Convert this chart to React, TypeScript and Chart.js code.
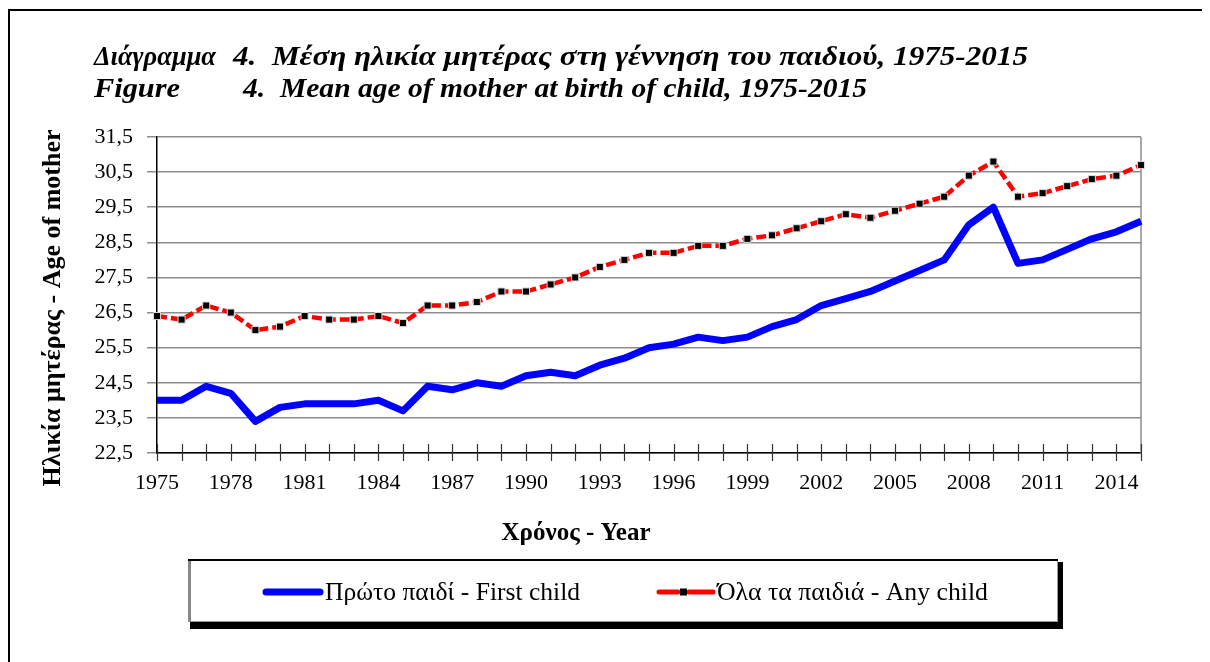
import React, { useEffect, useRef } from "react";
import { Chart, registerables } from "chart.js";

Chart.register(...registerables);

const years = [
  "1975", "1976", "1977", "1978", "1979", "1980", "1981", "1982", "1983", "1984",
  "1985", "1986", "1987", "1988", "1989", "1990", "1991", "1992", "1993", "1994",
  "1995", "1996", "1997", "1998", "1999", "2000", "2001", "2002", "2003", "2004",
  "2005", "2006", "2007", "2008", "2009", "2010", "2011", "2012", "2013", "2014", "2015",
];

const firstChild = [
  24.0, 24.0, 24.4, 24.2, 23.4, 23.8, 23.9, 23.9, 23.9, 24.0,
  23.7, 24.4, 24.3, 24.5, 24.4, 24.7, 24.8, 24.7, 25.0, 25.2,
  25.5, 25.6, 25.8, 25.7, 25.8, 26.1, 26.3, 26.7, 26.9, 27.1,
  27.4, 27.7, 28.0, 29.0, 29.5, 27.9, 28.0, 28.3, 28.6, 28.8, 29.1,
];

const anyChild = [
  26.4, 26.3, 26.7, 26.5, 26.0, 26.1, 26.4, 26.3, 26.3, 26.4,
  26.2, 26.7, 26.7, 26.8, 27.1, 27.1, 27.3, 27.5, 27.8, 28.0,
  28.2, 28.2, 28.4, 28.4, 28.6, 28.7, 28.9, 29.1, 29.3, 29.2,
  29.4, 29.6, 29.8, 30.4, 30.8, 29.8, 29.9, 30.1, 30.3, 30.4, 30.7,
];

const yMin = 22.5;
const yMax = 31.5;
const yStep = 1;
const xLabelEvery = 3;

const titleLine1a = "Διάγραμμα";
const titleLine1b = "4.  Μέση ηλικία μητέρας στη γέννηση του παιδιού, 1975-2015";
const titleLine2a = "Figure";
const titleLine2b = "4.  Mean age of mother at birth of child, 1975-2015";
const yTitle = "Ηλικία μητέρας - Age of mother";
const xTitle = "Χρόνος - Year";
const seriesNames = ["Πρώτο παιδί - First child", "Όλα τα παιδιά - Any child"];

const SERIF = "'Liberation Serif', 'Times New Roman', serif";

// draw text stretched horizontally to a target width (matches the wider original face)
function fitText(ctx: CanvasRenderingContext2D, text: string, x: number, y: number, w: number) {
  const m = ctx.measureText(text).width;
  ctx.save();
  ctx.translate(x, y);
  ctx.scale(w / m, 1);
  ctx.fillText(text, 0, 0);
  ctx.restore();
}

const decorPlugin = {
  id: "decor",
  beforeDatasetsDraw(chart: any) {
    const { ctx, chartArea } = chart;
    ctx.save();
    ctx.strokeStyle = "#8c8c8c";
    ctx.lineWidth = 1.5;
    ctx.beginPath();
    ctx.moveTo(chartArea.right, chartArea.top);
    ctx.lineTo(chartArea.right, chartArea.bottom);
    ctx.stroke();
    const xs = chart.scales.x;
    ctx.strokeStyle = "#333";
    ctx.lineWidth = 1.2;
    for (let i = 0; i < years.length; i++) {
      const px = Math.round(xs.getPixelForValue(i)) + 0.5;
      ctx.beginPath();
      ctx.moveTo(px, chartArea.bottom - 9);
      ctx.lineTo(px, chartArea.bottom + 8);
      ctx.stroke();
    }
    ctx.restore();
  },
  afterDraw(chart: any) {
    const { ctx } = chart;
    ctx.save();
    ctx.strokeStyle = "#000";
    ctx.lineWidth = 2;
    ctx.beginPath();
    ctx.moveTo(1, 660);
    ctx.lineTo(1, 2);
    ctx.lineTo(1210, 2);
    ctx.stroke();

    // title
    ctx.fillStyle = "#000";
    ctx.textBaseline = "alphabetic";
    ctx.textAlign = "left";
    ctx.font = `italic bold 28px ${SERIF}`;
    fitText(ctx, titleLine1a, 86, 57, 122);
    fitText(ctx, titleLine1b, 225, 57, 795);
    fitText(ctx, titleLine2a, 86, 89, 86);
    fitText(ctx, titleLine2b, 235, 89, 624);

    // y title
    ctx.font = `bold 26px ${SERIF}`;
    ctx.textAlign = "center";
    ctx.textBaseline = "middle";
    ctx.save();
    ctx.translate(45, 300);
    ctx.rotate(-Math.PI / 2);
    ctx.fillText(yTitle, 0, 0);
    ctx.restore();

    // x title
    ctx.font = `bold 25px ${SERIF}`;
    ctx.fillText(xTitle, 568, 526);

    // legend box
    const bx = 180, by = 551, bw = 870, bh = 63;
    ctx.fillStyle = "#000";
    ctx.fillRect(bx + 2, by + bh, bw + 3, 7);
    ctx.fillRect(bx + bw, by + 3, 5, bh + 4);
    ctx.fillStyle = "#fff";
    ctx.fillRect(bx, by, bw, bh);
    ctx.strokeStyle = "#999";
    ctx.lineWidth = 1;
    ctx.strokeRect(bx + 0.5, by + 0.5, bw - 1, bh - 1);
    ctx.fillStyle = "#888";
    ctx.fillRect(bx, by, 3, bh);
    ctx.fillStyle = "#000";
    ctx.fillRect(bx, by, bw, 2);

    const ly = 584;
    ctx.lineCap = "round";
    ctx.strokeStyle = "#0000ff";
    ctx.lineWidth = 7;
    ctx.beginPath();
    ctx.moveTo(258, ly);
    ctx.lineTo(312, ly);
    ctx.stroke();

    ctx.strokeStyle = "#ff0000";
    ctx.lineWidth = 5;
    ctx.beginPath();
    ctx.moveTo(651, ly);
    ctx.lineTo(670, ly);
    ctx.moveTo(681, ly);
    ctx.lineTo(705, ly);
    ctx.stroke();
    ctx.fillStyle = "#000";
    ctx.fillRect(672, ly - 3.5, 7, 7);

    ctx.font = `25px ${SERIF}`;
    ctx.textAlign = "left";
    ctx.textBaseline = "middle";
    fitText(ctx, seriesNames[0], 317, ly + 1, 255);
    fitText(ctx, seriesNames[1], 709, ly + 1, 271);
    ctx.restore();
  },
};

export default function App() {
  const ref = useRef<HTMLCanvasElement | null>(null);

  useEffect(() => {
    if (!ref.current) return;
    const chart = new Chart(ref.current, {
      type: "line",
      data: {
        labels: years,
        datasets: [
          {
            label: seriesNames[0],
            data: firstChild,
            borderColor: "#0000ff",
            backgroundColor: "#0000ff",
            borderWidth: 7,
            pointRadius: 0,
            tension: 0,
            borderJoinStyle: "round",
          },
          {
            label: seriesNames[1],
            data: anyChild,
            borderColor: "#ff0000",
            backgroundColor: "#ff0000",
            borderWidth: 4.5,
            borderDash: [10, 4],
            pointStyle: "rect",
            pointRadius: 5,
            pointBackgroundColor: "#000",
            pointBorderColor: "#ddd",
            pointBorderWidth: 1,
            tension: 0,
          },
        ],
      },
      options: {
        animation: false,
        responsive: false,
        layout: { padding: { top: 129, right: 69, bottom: 149, left: 0 } },
        plugins: {
          legend: { display: false },
          title: { display: false },
          tooltip: { enabled: false },
        },
        scales: {
          x: {
            type: "category",
            grid: { display: false },
            border: { display: true, color: "#000", width: 1.5 },
            ticks: {
              autoSkip: false,
              maxRotation: 0,
              minRotation: 0,
              padding: 9,
              color: "#000",
              font: { family: SERIF, size: 22 },
              callback: (_v: any, i: number) => (i % xLabelEvery === 0 ? years[i] : ""),
            },
            afterFit: (s: any) => {
              s.height = 60;
            },
          },
          y: {
            min: yMin,
            max: yMax,
            grid: { color: "#8c8c8c", lineWidth: 1.5, tickLength: 10 },
            border: { display: true, color: "#000", width: 1.5 },
            ticks: {
              stepSize: yStep,
              padding: 14,
              color: "#000",
              font: { family: SERIF, size: 22 },
              callback: (v: any) => Number(v).toFixed(1).replace(".", ","),
            },
            afterFit: (s: any) => {
              s.width = 149;
            },
          },
        },
      },
      plugins: [decorPlugin],
    });
    return () => chart.destroy();
  }, []);

  return (
    <div style={{ position: "relative", width: 1202, height: 654 }}>
      <canvas ref={ref} width={1202} height={654} style={{ display: "block" }} />
    </div>
  );
}
